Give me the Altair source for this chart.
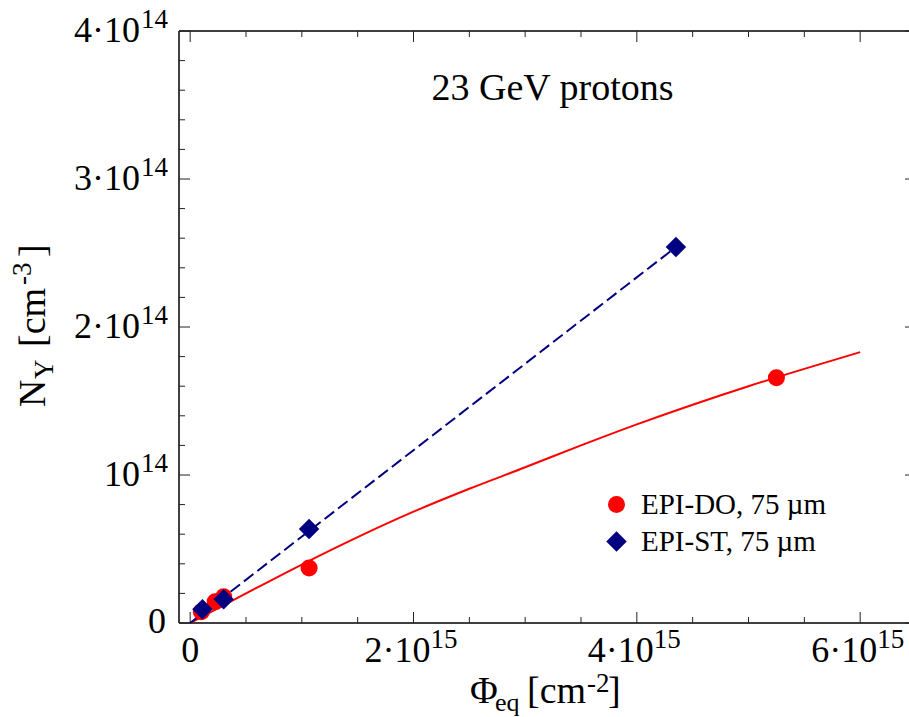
import altair as alt
import pandas as pd

FONT = "Liberation Serif"

# ---------------- data ----------------
series_names = ["EPI-DO, 75 µm", "EPI-ST, 75 µm"]

do_x = [0.10e15, 0.224e15, 0.30e15, 1.065e15, 5.25e15]
do_y = [0.076e14, 0.144e14, 0.178e14, 0.372e14, 1.657e14]

st_x = [0.11e15, 0.30e15, 1.065e15, 4.35e15]
st_y = [0.093e14, 0.16e14, 0.635e14, 2.54e14]

fit_do_x = [0, 0.5e15, 1.0e15, 1.5e15, 2.0e15, 2.5e15, 3.0e15, 3.5e15,
            4.0e15, 4.5e15, 5.0e15, 5.5e15, 6.0e15]
fit_do_y = [0, 0.20e14, 0.395e14, 0.58e14, 0.752e14, 0.907e14, 1.052e14,
            1.20e14, 1.342e14, 1.475e14, 1.60e14, 1.717e14, 1.83e14]

fit_st_x = [0, 4.35e15]
fit_st_y = [0, 2.54e14]

x_major = [0, 2e15, 4e15, 6e15]
x_minor = [0.5e15, 1.0e15, 1.5e15, 2.5e15, 3.0e15, 3.5e15, 4.5e15, 5.0e15, 5.5e15]
y_major = [0, 1e14, 2e14, 3e14, 4e14]
y_minor = [0.2e14, 0.4e14, 0.6e14, 0.8e14, 1.2e14, 1.4e14, 1.6e14, 1.8e14,
           2.2e14, 2.4e14, 2.6e14, 2.8e14, 3.2e14, 3.4e14, 3.6e14, 3.8e14]

x_lab_vals = [2e15, 4e15, 6e15]
x_lab_base = ["2·10", "4·10", "6·10"]
x_lab_exp = ["15", "15", "15"]
y_lab_vals = [1e14, 2e14, 3e14, 4e14]
y_lab_base = ["10", "2·10", "3·10", "4·10"]
y_lab_exp = ["14", "14", "14", "14"]

# ---------------- layout ----------------
W = 730          # visible plot width (right frame lies outside the page)
RANGE_W = 737    # full scale range
H = 592

xs = alt.Scale(domain=[-0.1e15, 6.5e15], range=[0, RANGE_W], nice=False, zero=False)
ys = alt.Scale(domain=[0, 4e14], nice=False, zero=False)


def X(field="x"):
    return alt.X(f"{field}:Q", scale=xs, axis=None)


def Y(field="y"):
    return alt.Y(f"{field}:Q", scale=ys, axis=None)


layers = []

# frame
one = pd.DataFrame({"a": [0]})
layers.append(alt.Chart(one).mark_rule(color="black", strokeWidth=1.5).encode(
    x=alt.value(0), y=alt.value(0), y2=alt.value(H)))
layers.append(alt.Chart(one).mark_rule(color="black", strokeWidth=1.5).encode(
    x=alt.value(0), x2=alt.value(RANGE_W), y=alt.value(0)))
layers.append(alt.Chart(one).mark_rule(color="black", strokeWidth=1.5).encode(
    x=alt.value(0), x2=alt.value(RANGE_W), y=alt.value(H)))

# ticks (pointing inwards on all four sides)
for vals, ln in [(x_major, 11), (x_minor, 6)]:
    d = pd.DataFrame({"x": vals})
    layers.append(alt.Chart(d).mark_rule(color="#222", strokeWidth=1).encode(
        x=X(), y=alt.value(H), y2=alt.value(H - ln)))
    layers.append(alt.Chart(d).mark_rule(color="#222", strokeWidth=1).encode(
        x=X(), y=alt.value(0), y2=alt.value(ln)))
for vals, ln in [(y_major, 11), (y_minor, 6)]:
    d = pd.DataFrame({"y": vals})
    layers.append(alt.Chart(d).mark_rule(color="#222", strokeWidth=1).encode(
        y=Y(), x=alt.value(0), x2=alt.value(ln)))
    layers.append(alt.Chart(d).mark_rule(color="#222", strokeWidth=1).encode(
        y=Y(), x=alt.value(RANGE_W), x2=alt.value(RANGE_W - ln)))

# fit lines
layers.append(alt.Chart(pd.DataFrame({"x": fit_do_x, "y": fit_do_y})).mark_line(
    color="#ff0000", strokeWidth=2, interpolate="monotone").encode(x=X(), y=Y()))
layers.append(alt.Chart(pd.DataFrame({"x": fit_st_x, "y": fit_st_y})).mark_line(
    color="#000080", strokeWidth=2, strokeDash=[12, 5]).encode(x=X(), y=Y()))

# points
pts = pd.DataFrame({
    "x": do_x + st_x,
    "y": do_y + st_y,
    "series": [series_names[0]] * len(do_x) + [series_names[1]] * len(st_x),
})
leg = alt.Legend(orient="none", legendX=423, legendY=459, title=None,
                 labelFont=FONT, labelFontSize=29, labelColor="black", labelLimit=500,
                 symbolSize=250, labelOffset=10, rowPadding=7, padding=0,
                 symbolOpacity=1, symbolStrokeWidth=0)
layers.append(alt.Chart(pts).mark_point(filled=True, opacity=1).encode(
    x=X(), y=Y(),
    color=alt.Color("series:N", scale=alt.Scale(domain=series_names,
                                                range=["#ff0000", "#000080"]), legend=leg),
    shape=alt.Shape("series:N", scale=alt.Scale(domain=series_names,
                                                range=["circle", "diamond"]), legend=leg),
    size=alt.Size("series:N", scale=alt.Scale(domain=series_names, range=[290, 420]),
                  legend=None),
))

# tick labels
TL = 36
SUP = 27
dy_lab = pd.DataFrame({"y": y_lab_vals, "base": y_lab_base, "exp": y_lab_exp})
layers.append(alt.Chart(dy_lab).mark_text(align="right", baseline="alphabetic", dy=11,
                                          font=FONT, fontSize=TL, color="black").encode(
    y=Y(), x=alt.value(-39), text="base:N"))
layers.append(alt.Chart(dy_lab).mark_text(align="right", baseline="alphabetic", dy=-3,
                                          font=FONT, fontSize=SUP, color="black").encode(
    y=Y(), x=alt.value(-11), text="exp:N"))
layers.append(alt.Chart(pd.DataFrame({"y": [0], "t": ["0"]})).mark_text(
    align="right", baseline="alphabetic", dy=10, font=FONT, fontSize=TL, color="black").encode(
    y=Y(), x=alt.value(-13), text="t:N"))

dx_lab = pd.DataFrame({"x": x_lab_vals, "base": x_lab_base, "exp": x_lab_exp})
layers.append(alt.Chart(dx_lab).mark_text(align="right", baseline="alphabetic", dx=17,
                                          font=FONT, fontSize=TL, color="black").encode(
    x=X(), y=alt.value(631), text="base:N"))
layers.append(alt.Chart(dx_lab).mark_text(align="left", baseline="alphabetic", dx=17,
                                          font=FONT, fontSize=SUP, color="black").encode(
    x=X(), y=alt.value(617), text="exp:N"))
layers.append(alt.Chart(pd.DataFrame({"x": [0], "t": ["0"]})).mark_text(
    align="center", baseline="alphabetic", font=FONT, fontSize=TL, color="black").encode(
    x=X(), y=alt.value(631), text="t:N"))


def label(text, x, y, size, angle=0, align="left"):
    mk = dict(align=align, baseline="alphabetic", font=FONT, fontSize=size, color="black")
    if angle:
        mk["angle"] = angle
    return alt.Chart(pd.DataFrame({"t": [text]})).mark_text(**mk).encode(
        x=alt.value(x), y=alt.value(y), text="t:N")


# x axis title:  Φ_eq [cm^-2]
TT = 38
layers += [
    label("Φ", 291, 672, TT),
    label("eq", 316, 680, 26),
    label("[cm", 348, 672, TT),
    label("-2", 408, 661, SUP),
    label("]", 429, 672, TT),
]

# y axis title:  N_Y  [cm^-3]  (rotated)
layers += [
    label("N", -134, 376, TT, angle=270),
    label("Y", -126, 348, SUP, angle=270),
    label("[cm", -134, 316, TT, angle=270),
    label("-3", -148, 254, SUP, angle=270),
    label("]", -134, 226, TT, angle=270),
]

# annotation
layers.append(label("23 GeV protons", 373.5, 69, 38, align="center"))

chart = alt.layer(*layers).properties(
    width=W, height=H,
    padding={"left": 179, "top": 31, "right": 0, "bottom": 94},
    autosize=alt.AutoSizeParams(type="none"),
).configure_view(stroke=None)

chart.save("out.html", embed_options={"renderer": "svg", "actions": False})
